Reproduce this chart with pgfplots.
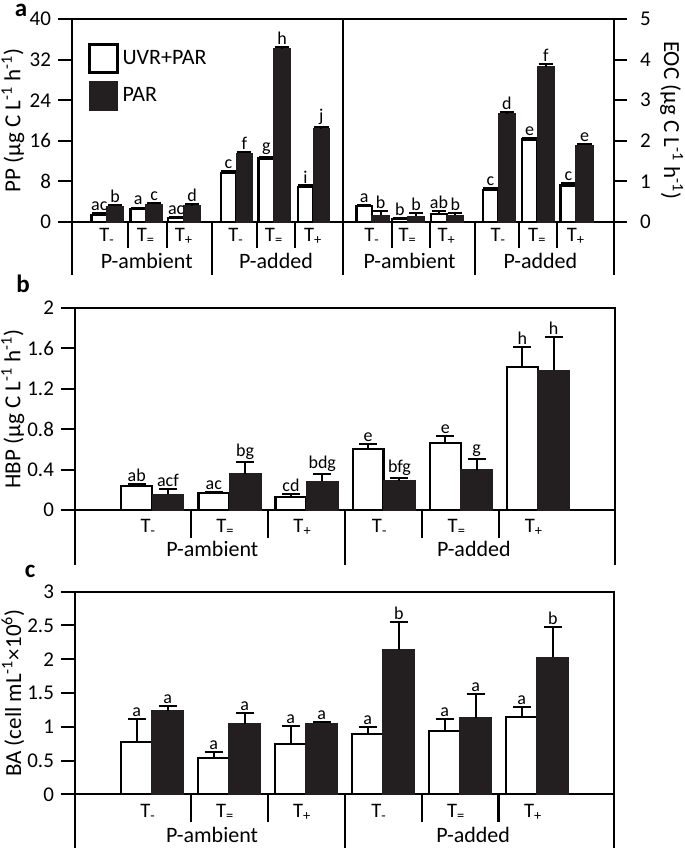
\documentclass[border=0pt]{standalone}
\usepackage{fontspec}
\setmainfont{Carlito}
\usepackage{pgfplots}
\usepackage{pgfplotstable}
\pgfplotsset{compat=1.18}
\definecolor{barblk}{RGB}{35,31,32}
\newcommand\Tfont{\fontsize{10.3}{12}\selectfont}
\newcommand\Pfont{\fontsize{11}{13}\selectfont}
\newcommand\Lfont{\fontsize{9}{10}\selectfont}
\newcommand\Tlab[3]{\node[anchor=base, font=\Tfont, inner sep=0pt] at ([yshift=#3]axis cs:#1,0) {T\textsubscript{#2}};}
\newcommand\Plab[3]{\node[anchor=base, font=\Pfont, inner sep=0pt] at ([yshift=#3]axis cs:#1,0) {#2};}
\newcommand\Dline[2]{\draw[line width=1pt] (axis cs:#1,0) -- ++(0pt,#2);}

% Panel a, PP (left)
\pgfplotstableread{
x y err lab
0.905 1.45 0.25 ac
1.91 2.6 0.25 a
2.89 0.8 0.25 ac
4.24 9.7 0.35 c
5.22 12.5 0.35 g
6.23 6.9 0.3 i
}\PPw
\pgfplotstableread{
x y err lab
0.905 3.1 0.3 b
1.91 3.5 0.25 c
2.89 3.2 0.25 d
4.24 13.5 0.35 f
5.22 34.1 0.4 h
6.23 18.4 0.3 j
}\PPb
% Panel a, EOC (right)
\pgfplotstableread{
x y err lab
0.75 0.39 0.04 a
1.67 0.08 0.02 b
2.68 0.19 0.07 ab
4.01 0.78 0.05 c
5.02 2.03 0.04 e
6.02 0.90 0.05 c
}\EOCw
\pgfplotstableread{
x y err lab
0.75 0.16 0.10 b
1.67 0.14 0.07 b
2.68 0.16 0.06 b
4.01 2.66 0.05 d
5.02 3.82 0.07 f
6.02 1.89 0.03 e
}\EOCb
% Panel b, HBP
\pgfplotstableread{
x y err lab
1 0.24 0.02 ab
2 0.165 0.012 ac
3 0.125 0.035 cd
4 0.60 0.05 e
5 0.66 0.07 e
6 1.41 0.20 h
}\HBPw
\pgfplotstableread{
x y err lab
1 0.155 0.055 acf
2 0.356 0.114 bg
3 0.283 0.077 bdg
4 0.287 0.029 bfg
5 0.395 0.105 g
6 1.38 0.33 h
}\HBPb
% Panel c, BA
\pgfplotstableread{
x y err lab
1 0.775 0.345 a
2 0.54 0.09 a
3 0.74 0.27 a
4 0.89 0.11 a
5 0.94 0.17 a
6 1.14 0.15 a
}\BAw
\pgfplotstableread{
x y err lab
1 1.24 0.07 a
2 1.04 0.16 a
3 1.05 0.015 a
4 2.14 0.41 b
5 1.13 0.36 a
6 2.03 0.45 b
}\BAb

\pgfplotsset{
  panel/.style={scale only axis, anchor=south west, xmin=0, xmax=7, ymin=0,
    xtick=\empty, clip=false,
    axis line style={line width=1pt},
    every tick/.style={line width=1pt, black},
    tick align=outside, major tick length=7pt,
    ticklabel style={font=\fontsize{10.5}{12}\selectfont},
    /pgf/number format/assume math mode=true,
    label style={font=\fontsize{11.5}{13}\selectfont}},
  wbar/.style n args={2}{ybar, bar width=#1, bar shift=0pt, fill=white, draw=black, line width=1.1pt, forget plot,
    error bars/y dir=plus, error bars/y explicit,
    error bars/error bar style={line width=1pt, black},
    error bars/error mark options={rotate=90, line width=1pt, black, mark size=#2}},
  bbar/.style n args={2}{ybar, bar width=#1, bar shift=0pt, fill=barblk, draw=barblk, line width=0.6pt, forget plot,
    error bars/y dir=plus, error bars/y explicit,
    error bars/error bar style={line width=1pt, black},
    error bars/error mark options={rotate=90, line width=1pt, black, mark size=#2}},
  lett/.style={draw=none, mark=none, forget plot, nodes near coords,
    point meta=explicit symbolic,
    nodes near coords style={anchor=south, font=\Lfont, inner sep=1pt, black}},
}

\begin{document}
\begin{tikzpicture}
\useasboundingbox (0pt,0pt) rectangle (342.5pt,425.5pt);

% ---------------- panel a left: PP
\begin{axis}[panel, at={(36pt,314.5pt)}, width=135.5pt, height=101.5pt,
  ymax=40, ytick={0,8,16,24,32,40}, ytick pos=left,
  ylabel={PP (µg C L\textsuperscript{-1} h\textsuperscript{-1})},
  ylabel style={at={(axis description cs:-0.218,0.5)}, anchor=center},
  legend style={draw=none, fill=none, at={(axis description cs:0.059,0.882)}, anchor=north west,
    font=\fontsize{11}{13}\selectfont, row sep=3.5pt, inner sep=0pt},
  legend cell align=left]
\addlegendimage{legend image code/.code={\draw[fill=white,draw=black,line width=1.1pt] (0pt,-7pt) rectangle (14pt,7pt);}}
\addlegendentry{UVR+PAR}
\addlegendimage{legend image code/.code={\draw[fill=barblk,draw=barblk] (0pt,-7.3pt) rectangle (14pt,7.3pt);}}
\addlegendentry{PAR}
\addplot[wbar={0.40}{3.6pt}] table[x expr=\thisrow{x}-0.2, y=y, y error=err] {\PPw};
\addplot[bbar={0.42}{3.6pt}] table[x expr=\thisrow{x}+0.21, y=y, y error=err] {\PPb};
\addplot[lett] table[x expr=\thisrow{x}-0.2, y expr=\thisrow{y}+\thisrow{err}, meta=lab] {\PPw};
\addplot[lett] table[x expr=\thisrow{x}+0.21, y expr=\thisrow{y}+\thisrow{err}, meta=lab] {\PPb};
\Dline{1.45}{-13pt}\Dline{2.45}{-13pt}\Dline{4.78}{-13pt}\Dline{5.76}{-13pt}
\Dline{3.62}{-26.5pt}\Dline{0}{-26.5pt}\Dline{7}{-26.5pt}
\Tlab{0.905}{-}{-10pt}\Tlab{1.91}{=}{-10pt}\Tlab{2.89}{+}{-10pt}
\Tlab{4.24}{-}{-10pt}\Tlab{5.22}{=}{-10pt}\Tlab{6.23}{+}{-10pt}
\Plab{1.93}{P-ambient}{-23.5pt}\Plab{5.27}{P-added}{-23.5pt}
\end{axis}

% ---------------- panel a right: EOC
\begin{axis}[panel, at={(171.5pt,314.5pt)}, width=135.5pt, height=101.5pt,
  ymax=5, ytick={0,1,2,3,4,5}, ytick pos=right, yticklabel pos=right,
  major tick length=6.5pt, yticklabel style={xshift=3pt},
  ylabel={EOC (µg C L\textsuperscript{-1} h\textsuperscript{-1})},
  ylabel style={at={(axis description cs:1.213,0.5)}, rotate=180, anchor=center}]
\addplot[wbar={0.40}{3.6pt}] table[x expr=\thisrow{x}-0.2, y=y, y error=err] {\EOCw};
\addplot[bbar={0.44}{3.6pt}] table[x expr=\thisrow{x}+0.22, y=y, y error=err] {\EOCb};
\addplot[lett] table[x expr=\thisrow{x}-0.2, y expr=\thisrow{y}+\thisrow{err}, meta=lab] {\EOCw};
\addplot[lett] table[x expr=\thisrow{x}+0.22, y expr=\thisrow{y}+\thisrow{err}, meta=lab] {\EOCb};
\Dline{1.26}{-13pt}\Dline{2.24}{-13pt}\Dline{4.55}{-13pt}\Dline{5.53}{-13pt}
\Dline{3.40}{-26.5pt}\Dline{7}{-26.5pt}
\Tlab{0.75}{-}{-10pt}\Tlab{1.67}{=}{-10pt}\Tlab{2.68}{+}{-10pt}
\Tlab{4.01}{-}{-10pt}\Tlab{5.02}{=}{-10pt}\Tlab{6.02}{+}{-10pt}
\Plab{1.72}{P-ambient}{-23.5pt}\Plab{5.1}{P-added}{-23.5pt}
\end{axis}

% ---------------- panel b: HBP
\begin{axis}[panel, at={(37.5pt,170.5pt)}, width=270pt, height=101.15pt,
  ymax=2, ytick={0,0.4,0.8,1.2,1.6,2}, ytick pos=left,
  ylabel={HBP (µg C L\textsuperscript{-1} h\textsuperscript{-1})},
  ylabel style={at={(axis description cs:-0.115,0.5)}, anchor=center}]
\addplot[wbar={0.40}{4.5pt}] table[x expr=\thisrow{x}-0.2, y=y, y error=err] {\HBPw};
\addplot[bbar={0.41}{4.5pt}] table[x expr=\thisrow{x}+0.205, y=y, y error=err] {\HBPb};
\addplot[lett] table[x expr=\thisrow{x}-0.2, y expr=\thisrow{y}+\thisrow{err}, meta=lab] {\HBPw};
\addplot[lett] table[x expr=\thisrow{x}+0.205, y expr=\thisrow{y}+\thisrow{err}, meta=lab] {\HBPb};
\Dline{1.5}{-14pt}\Dline{2.5}{-14pt}\Dline{4.5}{-14pt}\Dline{5.5}{-14pt}
\Dline{3.5}{-27.5pt}\Dline{0}{-27.5pt}\Dline{7}{-27.5pt}
\Tlab{0.95}{-}{-11.5pt}\Tlab{1.95}{=}{-11.5pt}\Tlab{2.95}{+}{-11.5pt}
\Tlab{3.95}{-}{-11.5pt}\Tlab{4.95}{=}{-11.5pt}\Tlab{5.95}{+}{-11.5pt}
\Plab{1.78}{P-ambient}{-23.5pt}\Plab{5.17}{P-added}{-23.5pt}
\end{axis}

% ---------------- panel c: BA
\begin{axis}[panel, at={(37.5pt,28.35pt)}, width=269.5pt, height=101.3pt,
  ymax=3, ytick={0,0.5,1,1.5,2,2.5,3}, ytick pos=left,
  ylabel={BA (cell mL\textsuperscript{-1}×10\textsuperscript{6})},
  ylabel style={at={(axis description cs:-0.115,0.5)}, anchor=center}]
\addplot[wbar={0.40}{4.5pt}] table[x expr=\thisrow{x}-0.2, y=y, y error=err] {\BAw};
\addplot[bbar={0.41}{4.5pt}] table[x expr=\thisrow{x}+0.205, y=y, y error=err] {\BAb};
\addplot[lett] table[x expr=\thisrow{x}-0.2, y expr=\thisrow{y}+\thisrow{err}, meta=lab] {\BAw};
\addplot[lett] table[x expr=\thisrow{x}+0.205, y expr=\thisrow{y}+\thisrow{err}, meta=lab] {\BAb};
\Dline{1.5}{-14pt}\Dline{2.5}{-14pt}\Dline{4.5}{-14pt}\Dline{5.5}{-14pt}
\Dline{3.5}{-27pt}\Dline{0}{-27pt}\Dline{7}{-27pt}
\Tlab{0.95}{-}{-11.5pt}\Tlab{1.95}{=}{-11.5pt}\Tlab{2.95}{+}{-11.5pt}
\Tlab{3.95}{-}{-11.5pt}\Tlab{4.95}{=}{-11.5pt}\Tlab{5.95}{+}{-11.5pt}
\Plab{1.78}{P-ambient}{-24pt}\Plab{5.17}{P-added}{-24pt}
\end{axis}

% panel letters
\node[inner sep=0pt, font=\bfseries\fontsize{12.5}{13}\selectfont] at (10.5pt,420.5pt) {a};
\node[inner sep=0pt, font=\bfseries\fontsize{12.5}{13}\selectfont] at (11.5pt,283.5pt) {b};
\node[inner sep=0pt, font=\bfseries\fontsize{12.5}{13}\selectfont] at (15pt,140pt) {c};
\end{tikzpicture}
\end{document}
